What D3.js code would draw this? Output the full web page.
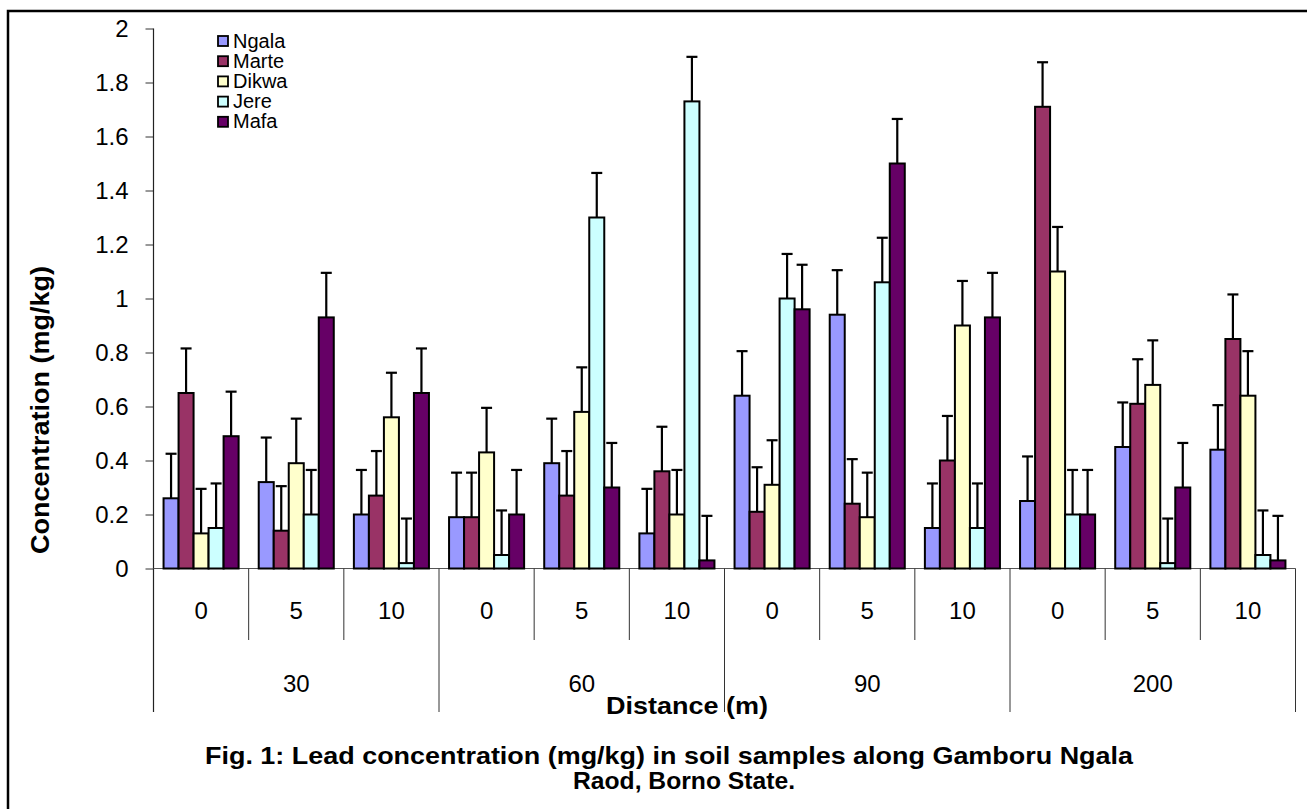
<!DOCTYPE html>
<html>
<head>
<meta charset="utf-8">
<script src="https://cdn.jsdelivr.net/npm/d3@7/dist/d3.min.js"></script>
<style>
  body { margin: 0; background: #fff; }
  text { font-family: Arial, "Liberation Sans", sans-serif; fill: #000; }
</style>
</head>
<body>
<svg id="chart"></svg>
<script>
// series and categories
const seriesNames = ["Ngala", "Marte", "Dikwa", "Jere", "Mafa"];
const seriesColors = ["#9999FF", "#993366", "#FFFFCC", "#CCFFFF", "#660066"];
const distances = ["30", "60", "90", "200"];
const depths = ["0", "5", "10"];

// values in order 30-0, 30-5, 30-10, 60-0 ... 200-10
const ngala = [0.26, 0.32, 0.20, 0.19, 0.39, 0.13, 0.64, 0.94, 0.15, 0.25, 0.45, 0.44];
const marte = [0.65, 0.14, 0.27, 0.19, 0.27, 0.36, 0.21, 0.24, 0.40, 1.71, 0.61, 0.85];
const dikwa = [0.13, 0.39, 0.56, 0.43, 0.58, 0.20, 0.31, 0.19, 0.90, 1.10, 0.68, 0.64];
const jere  = [0.15, 0.20, 0.02, 0.05, 1.30, 1.73, 1.00, 1.06, 0.15, 0.20, 0.02, 0.05];
const mafa  = [0.49, 0.93, 0.65, 0.20, 0.30, 0.03, 0.96, 1.50, 0.93, 0.20, 0.30, 0.03];
const errorBar = 0.165;
const yTicks = [0, 0.2, 0.4, 0.6, 0.8, 1, 1.2, 1.4, 1.6, 1.8, 2];

const allSeries = [ngala, marte, dikwa, jere, mafa];

const width = 1307;
const height = 809;

const svg = d3.select("#chart")
  .attr("width", width)
  .attr("height", height);

// outer frame (cut off at right and bottom in the original)
svg.append("path")
  .attr("d", `M8,${height + 5} V11 H${width + 5}`)
  .attr("fill", "none")
  .attr("stroke", "#000")
  .attr("stroke-width", 2.5);

const plotLeft = 153.5, plotRight = 1295.5, plotTop = 28.5, base = 568.5;
const subBottom = 640, groupBottom = 712;

const keys = [];
distances.forEach(d => depths.forEach(p => keys.push(d + "-" + p)));

const x0 = d3.scaleBand().domain(keys).range([plotLeft, plotRight]).padding(0);
const x1 = d3.scaleBand().domain(seriesNames).range([0, x0.bandwidth()])
  .paddingInner(0).paddingOuter(0.67);
const y = d3.scaleLinear().domain([0, 2]).range([base, plotTop]);

// y axis
const yAxis = d3.axisLeft(y).tickValues(yTicks).tickSize(8).tickPadding(17)
  .tickFormat(d3.format("~g"));
const gy = svg.append("g")
  .attr("transform", `translate(${plotLeft},0)`)
  .call(yAxis);
gy.select(".domain").remove();
gy.selectAll(".tick line").attr("stroke", "#333");
gy.selectAll(".tick text")
  .style("font-size", "24px")
  .style("font-family", "Arial, 'Liberation Sans', sans-serif");

svg.append("line")
  .attr("x1", plotLeft).attr("x2", plotLeft)
  .attr("y1", plotTop).attr("y2", groupBottom)
  .attr("stroke", "#222").attr("stroke-width", 1.2);

// baseline
svg.append("line")
  .attr("x1", plotLeft).attr("x2", plotRight)
  .attr("y1", base).attr("y2", base)
  .attr("stroke", "#555").attr("stroke-width", 1);

// category separators
const bounds = keys.map(k => x0(k)).concat([plotRight]);
svg.append("g").selectAll("line")
  .data(bounds.slice(1))
  .join("line")
  .attr("x1", d => d).attr("x2", d => d)
  .attr("y1", base)
  .attr("y2", (d, i) => ((i + 1) % depths.length === 0) ? groupBottom : subBottom)
  .attr("stroke", "#333").attr("stroke-width", 1);

// depth labels
svg.append("g").selectAll("text")
  .data(keys)
  .join("text")
  .attr("x", k => x0(k) + x0.bandwidth() / 2)
  .attr("y", 619)
  .attr("text-anchor", "middle")
  .style("font-size", "24px")
  .text(k => k.split("-")[1]);

// distance labels
svg.append("g").selectAll("text")
  .data(distances)
  .join("text")
  .attr("x", d => (x0(d + "-0") + x0(d + "-10") + x0.bandwidth()) / 2)
  .attr("y", 692)
  .attr("text-anchor", "middle")
  .style("font-size", "24px")
  .text(d => d);

// bars
const groups = svg.append("g").selectAll("g")
  .data(keys)
  .join("g")
  .attr("transform", k => `translate(${x0(k)},0)`);

groups.selectAll("rect")
  .data((k, i) => seriesNames.map((s, j) => ({ s, j, v: allSeries[j][i] })))
  .join("rect")
  .attr("x", d => x1(d.s))
  .attr("y", d => y(d.v))
  .attr("width", x1.bandwidth())
  .attr("height", d => base - y(d.v))
  .attr("fill", d => seriesColors[d.j])
  .attr("stroke", "#000")
  .attr("stroke-width", 2);

// error bars (upper only)
const eb = groups.selectAll("g.err")
  .data((k, i) => seriesNames.map((s, j) => ({ s, j, v: allSeries[j][i] })))
  .join("g")
  .attr("class", "err");
eb.append("line")
  .attr("x1", d => x1(d.s) + x1.bandwidth() / 2)
  .attr("x2", d => x1(d.s) + x1.bandwidth() / 2)
  .attr("y1", d => y(d.v))
  .attr("y2", d => y(d.v + errorBar))
  .attr("stroke", "#000").attr("stroke-width", 2.2);
eb.append("line")
  .attr("x1", d => x1(d.s) + x1.bandwidth() / 2 - 5.5)
  .attr("x2", d => x1(d.s) + x1.bandwidth() / 2 + 5.5)
  .attr("y1", d => y(d.v + errorBar))
  .attr("y2", d => y(d.v + errorBar))
  .attr("stroke", "#000").attr("stroke-width", 2.2);

// legend
const legend = svg.append("g").attr("transform", "translate(218,36)");
const li = legend.selectAll("g")
  .data(seriesNames)
  .join("g")
  .attr("transform", (d, i) => `translate(0,${i * 20.2})`);
li.append("rect")
  .attr("width", 10).attr("height", 10)
  .attr("fill", (d, i) => seriesColors[i])
  .attr("stroke", "#000").attr("stroke-width", 1.8);
li.append("text")
  .attr("x", 15).attr("y", 11.5)
  .style("font-size", "20px")
  .text(d => d);

// axis titles
svg.append("text")
  .attr("transform", "translate(49,410) rotate(-90)")
  .attr("text-anchor", "middle")
  .attr("textLength", 288)
  .attr("lengthAdjust", "spacingAndGlyphs")
  .style("font-size", "25px")
  .style("font-weight", "bold")
  .text("Concentration (mg/kg)");

svg.append("text")
  .attr("x", 687).attr("y", 714)
  .attr("text-anchor", "middle")
  .attr("textLength", 162)
  .attr("lengthAdjust", "spacingAndGlyphs")
  .style("font-size", "24px")
  .style("font-weight", "bold")
  .text("Distance (m)");

// caption, two lines
const caption = ["Fig. 1: Lead concentration (mg/kg) in soil samples along Gamboru Ngala",
                 "Raod, Borno State."];
const captionWidths = [928, 222];
svg.append("g").selectAll("text")
  .data(caption)
  .join("text")
  .attr("x", (d, i) => i === 0 ? 669 : 684)
  .attr("y", (d, i) => 764 + i * 25)
  .attr("text-anchor", "middle")
  .attr("textLength", (d, i) => captionWidths[i])
  .attr("lengthAdjust", "spacingAndGlyphs")
  .style("font-size", "24px")
  .style("font-weight", "bold")
  .text(d => d);
</script>
</body>
</html>
